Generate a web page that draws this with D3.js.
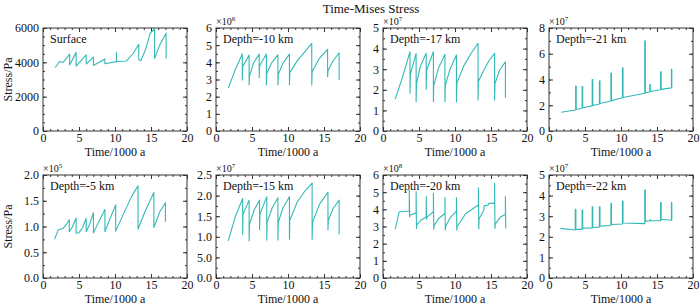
<!DOCTYPE html>
<html>
<head>
<meta charset="utf-8">
<script src="https://cdn.jsdelivr.net/npm/d3@7"></script>
<style>
  body { margin: 0; background: #fff; }
  svg text { font-family: "Liberation Serif", "Times New Roman", serif; font-weight: normal; fill: #111; }
</style>
</head>
<body>
<div id="chart"></div>
<script>
// x axis (time in 1000 a), shared by all panels
const xTicks = [0, 5, 10, 15, 20];

// series: [time, stress] in the units shown on each y axis
const surface = [[1.7,3700],[2.3,4050],[2.8,4000],[3.7,4480],[3.7,3850],[4.6,4580],[4.6,3780],[6.0,4430],[6.0,3900],
  [7.0,4300],[7.0,3820],[8.6,4200],[8.6,3920],[10.2,4040],[10.2,4580],[10.2,4050],[11.6,4080],[12.5,4500],[13.3,5050],
  [13.3,4150],[13.6,4100],[14.2,4700],[14.9,5700],[15.5,5950],[15.5,4230],[16.2,5000],[17.1,5700],[17.1,4230]];

const depth10 = [[1.7,2.5],[2.7,3.6],[3.65,4.48],[3.65,2.97],[3.7,3.75],[4.6,4.43],[4.6,2.68],[4.65,3.2],[5.2,3.95],
  [6.0,4.48],[6.0,3.1],[6.05,3.8],[7.0,4.48],[7.0,2.68],[7.05,3.35],[7.7,3.95],[8.6,4.43],[8.6,2.68],[8.65,3.3],
  [9.3,3.95],[10.2,4.48],[10.2,2.68],[10.25,3.4],[11.3,4.1],[12.3,4.6],[13.3,5.1],[13.3,2.68],[13.35,3.45],[14.3,4.2],
  [15.5,4.75],[15.5,3.16],[15.55,3.5],[16.2,4.05],[17.1,4.56],[17.1,2.97]];

const depth17 = [[1.7,1.55],[2.7,2.6],[3.75,3.85],[3.75,1.83],[3.8,2.75],[4.6,3.77],[4.6,1.42],[4.65,2.3],[5.2,3.15],
  [6.0,3.77],[6.0,2.02],[6.05,2.95],[7.0,3.85],[7.0,1.42],[7.05,2.2],[7.7,3.05],[8.6,3.72],[8.6,1.42],[8.65,2.2],
  [9.3,3.0],[10.2,3.69],[10.2,1.42],[10.25,2.3],[11.2,3.15],[12.2,3.75],[13.2,4.26],[13.2,1.5],[13.25,2.4],[14.0,2.95],
  [14.7,3.4],[15.5,3.77],[15.5,1.5],[15.55,2.3],[16.2,2.95],[17.0,3.36],[17.0,1.62]];

const depth21 = [[1.7,1.45],[3.7,1.63],[3.7,3.5],[3.78,3.5],[3.78,1.67],[4.6,1.77],[4.6,3.45],[4.68,3.45],[4.68,1.8],
  [6.0,1.95],[6.0,4.0],[6.08,4.0],[6.08,1.98],[7.0,2.1],[7.0,3.9],[7.08,3.9],[7.08,2.13],[8.6,2.33],[8.6,4.5],[8.68,4.5],
  [8.68,2.36],[10.2,2.58],[10.2,4.9],[10.28,4.9],[10.28,2.6],[13.3,2.93],[13.3,7.0],[13.38,7.0],[13.38,2.96],[14.0,3.05],
  [14.0,3.6],[14.08,3.6],[14.08,3.07],[15.5,3.2],[15.5,4.6],[15.58,4.6],[15.58,3.23],[17.0,3.35],[17.0,4.8],[17.06,4.8],[17.06,3.38]];

const depth5 = [[1.6,0.75],[2.1,0.93],[2.8,0.965],[3.2,1.03],[3.65,1.13],[3.65,0.9],[4.0,0.97],[4.6,1.16],[4.6,0.87],
  [5.0,0.88],[5.5,0.98],[6.0,1.16],[6.0,0.9],[6.5,1.05],[7.0,1.27],[7.0,0.88],[7.7,1.08],[8.6,1.33],[8.6,0.9],[9.3,1.15],
  [10.1,1.42],[10.1,0.91],[11.2,1.25],[12.3,1.58],[13.2,1.79],[13.2,0.95],[14.2,1.3],[15.4,1.66],[15.4,0.98],[16.2,1.28],
  [17.0,1.46],[17.0,1.09]];

const depth15 = [[1.7,0.9],[2.7,1.5],[3.7,1.93],[3.7,1.06],[3.75,1.55],[4.6,1.89],[4.6,0.9],[4.65,1.3],[5.3,1.65],
  [6.05,1.89],[6.05,1.17],[6.1,1.55],[7.05,1.97],[7.05,0.92],[7.1,1.35],[7.8,1.7],[8.6,1.95],[8.6,0.92],[8.65,1.35],
  [9.3,1.7],[10.2,1.97],[10.2,0.94],[10.25,1.4],[11.3,1.85],[12.3,2.1],[13.35,2.3],[13.35,0.94],[13.4,1.35],[14.4,1.8],
  [15.55,2.08],[15.55,1.17],[15.6,1.4],[16.3,1.7],[17.1,1.89],[17.1,1.06]];

const depth20 = [[1.7,2.84],[2.25,3.86],[3.65,3.9],[3.65,5.12],[3.7,3.55],[3.75,3.65],[4.6,3.8],[4.6,5.03],[4.65,2.89],
  [4.7,3.1],[5.2,3.35],[6.0,3.55],[6.0,4.74],[6.05,3.42],[6.1,3.55],[7.0,3.86],[7.0,4.93],[7.05,2.84],[7.1,3.05],
  [7.7,3.45],[8.6,3.76],[8.6,4.69],[8.65,2.79],[8.7,3.0],[9.3,3.5],[10.2,3.9],[10.2,4.69],[10.25,2.79],[10.3,3.0],
  [11.5,3.76],[13.25,4.25],[13.25,5.26],[13.3,2.86],[13.35,3.45],[14.0,3.95],[14.05,4.2],[14.6,4.25],[14.7,4.35],
  [15.5,4.35],[15.5,5.51],[15.55,2.89],[15.6,3.15],[16.3,3.55],[17.0,3.7],[17.0,4.74],[17.05,2.89]];

const depth22 = [[1.6,2.41],[3.6,2.33],[3.65,2.35],[3.65,3.33],[3.73,3.33],[3.73,2.36],[4.6,2.36],[4.6,3.3],[4.68,3.3],
  [4.68,2.42],[6.0,2.43],[6.0,3.46],[6.08,3.46],[6.08,2.45],[7.0,2.47],[7.0,3.46],[7.08,3.46],[7.08,2.52],[8.6,2.55],
  [8.6,3.63],[8.68,3.63],[8.68,2.6],[10.2,2.62],[10.2,3.74],[10.28,3.74],[10.28,2.67],[13.3,2.64],[13.3,4.27],[13.38,4.27],
  [13.38,2.75],[14.0,2.78],[14.05,2.84],[14.1,2.78],[15.5,2.78],[15.5,3.66],[15.58,3.66],[15.58,2.85],[17.0,2.8],
  [17.0,3.66],[17.06,3.66],[17.06,2.8]];

// y tick values and their printed labels
const yTicksSurface = [0, 2000, 4000, 6000];
const yTicks6 = [0, 1, 2, 3, 4, 5, 6];
const yTicks5 = [0, 1, 2, 3, 4, 5];
const yTicks8 = [0, 2, 4, 6, 8];
const yTicksHalf2 = [0, 0.5, 1, 1.5, 2];
const yTicksHalf25 = [0, 0.5, 1, 1.5, 2, 2.5];
const labelsDepth5 = ["0.0", "0.5", "1.0", "1.5", "2.0"];
const labelsDepth15 = ["0.0", "5.0", "1.0", "1.5", "2.0", "2.5"];

const panels = [
  { name: "Surface", data: surface, ticks: yTicksSurface, labels: null, exp: null, row: 0, col: 0, minor: 4 },
  { name: "Depth=-10 km", data: depth10, ticks: yTicks6, labels: null, exp: "6", row: 0, col: 1, minor: 2 },
  { name: "Depth=-17 km", data: depth17, ticks: yTicks5, labels: null, exp: "7", row: 0, col: 2, minor: 2 },
  { name: "Depth=-21 km", data: depth21, ticks: yTicks8, labels: null, exp: "7", row: 0, col: 3, minor: 2 },
  { name: "Depth=-5 km", data: depth5, ticks: yTicksHalf2, labels: labelsDepth5, exp: "5", row: 1, col: 0, minor: 2 },
  { name: "Depth=-15 km", data: depth15, ticks: yTicksHalf25, labels: labelsDepth15, exp: "7", row: 1, col: 1, minor: 2 },
  { name: "Depth=-20 km", data: depth20, ticks: yTicks6, labels: null, exp: "8", row: 1, col: 2, minor: 2 },
  { name: "Depth=-22 km", data: depth22, ticks: yTicks5, labels: null, exp: "7", row: 1, col: 3, minor: 2 }
];

// layout
const W = 700, H = 306;
const colLeft = [43, 216, 383, 549];
const rowTop = [28, 175];
const pw = 144, ph = 103;
const lineColor = "#33b9b5";
const serif = "'Liberation Serif', 'Times New Roman', serif";

const svg = d3.select("#chart").append("svg")
  .attr("width", W).attr("height", H)
  .style("font-family", serif);

svg.append("rect").attr("width", W).attr("height", H).attr("fill", "#fff");

svg.append("text")
  .attr("x", 371).attr("y", 13)
  .attr("text-anchor", "middle")
  .style("font-family", serif)
  .style("font-size", "13px")
  .text("Time-Mises Stress");

const x = d3.scaleLinear().domain([0, 20]).range([0, pw]);
const xMinor = d3.range(0, 21, 1);

panels.forEach(p => {
  const g = svg.append("g")
    .attr("transform", `translate(${colLeft[p.col]},${rowTop[p.row]})`);

  const yMax = p.ticks[p.ticks.length - 1];
  const y = d3.scaleLinear().domain([0, yMax]).range([ph, 0]);
  const step = p.ticks[1] - p.ticks[0];
  const yMinor = d3.range(0, yMax + 1e-9, step / p.minor);

  // minor ticks on all four sides
  const minorAxes = [
    [d3.axisBottom(x).tickValues(xMinor), `translate(0,${ph})`],
    [d3.axisTop(x).tickValues(xMinor), null],
    [d3.axisLeft(y).tickValues(yMinor), null],
    [d3.axisRight(y).tickValues(yMinor), `translate(${pw},0)`]
  ];
  minorAxes.forEach(([ax, tr]) => {
    const a = g.append("g").call(ax.tickSizeInner(-2).tickSizeOuter(0).tickFormat(""));
    if (tr) a.attr("transform", tr);
  });

  // major ticks
  const fmt = p.labels ? (d, i) => p.labels[i] : d3.format("d");
  g.append("g").attr("transform", `translate(0,${ph})`)
    .call(d3.axisBottom(x).tickValues(xTicks).tickSizeInner(-4).tickSizeOuter(0).tickPadding(2).tickFormat(d3.format("d")));
  g.append("g")
    .call(d3.axisLeft(y).tickValues(p.ticks).tickSizeInner(-4).tickSizeOuter(0).tickPadding(4).tickFormat(fmt));
  g.append("g").call(d3.axisTop(x).tickValues(xTicks).tickSizeInner(-4).tickSizeOuter(0).tickFormat(""));
  g.append("g").attr("transform", `translate(${pw},0)`)
    .call(d3.axisRight(y).tickValues(p.ticks).tickSizeInner(-4).tickSizeOuter(0).tickFormat(""));

  g.selectAll(".domain").remove();
  g.selectAll(".tick line").attr("stroke", "#333");
  g.selectAll(".tick text")
    .style("font-family", serif)
    .style("font-size", "12px")
    .attr("fill", "#111");

  // frame
  g.append("rect")
    .attr("width", pw).attr("height", ph)
    .attr("fill", "none").attr("stroke", "#333").attr("stroke-width", 1);

  // series
  const line = d3.line().x(d => x(d[0])).y(d => y(d[1]));
  g.append("path")
    .datum(p.data)
    .attr("fill", "none")
    .attr("stroke", lineColor)
    .attr("stroke-width", 1.1)
    .attr("stroke-linejoin", "round")
    .attr("d", line);

  // panel label
  g.append("text")
    .attr("x", 7).attr("y", 15)
    .style("font-family", serif)
    .style("font-size", "12px")
    .text(p.name);

  // exponent
  if (p.exp) {
    const t = g.append("text").attr("x", 0).attr("y", -3)
      .style("font-family", serif).style("font-size", "10px");
    t.append("tspan").text("\u00d710");
    t.append("tspan").attr("dy", -4).style("font-size", "7px").text(p.exp);
  }

  // axis titles
  g.append("text")
    .attr("x", pw / 2).attr("y", ph + 25)
    .attr("text-anchor", "middle")
    .style("font-family", serif)
    .style("font-weight", "normal")
    .style("font-size", "12px")
    .text("Time/1000 a");

  if (p.col === 0) {
    g.append("text")
      .attr("transform", `translate(${-31},${ph / 2}) rotate(-90)`)
      .attr("text-anchor", "middle")
      .style("font-family", serif)
      .style("font-weight", "normal")
      .style("font-size", "12px")
      .text("Stress/Pa");
  }
});
</script>
</body>
</html>
